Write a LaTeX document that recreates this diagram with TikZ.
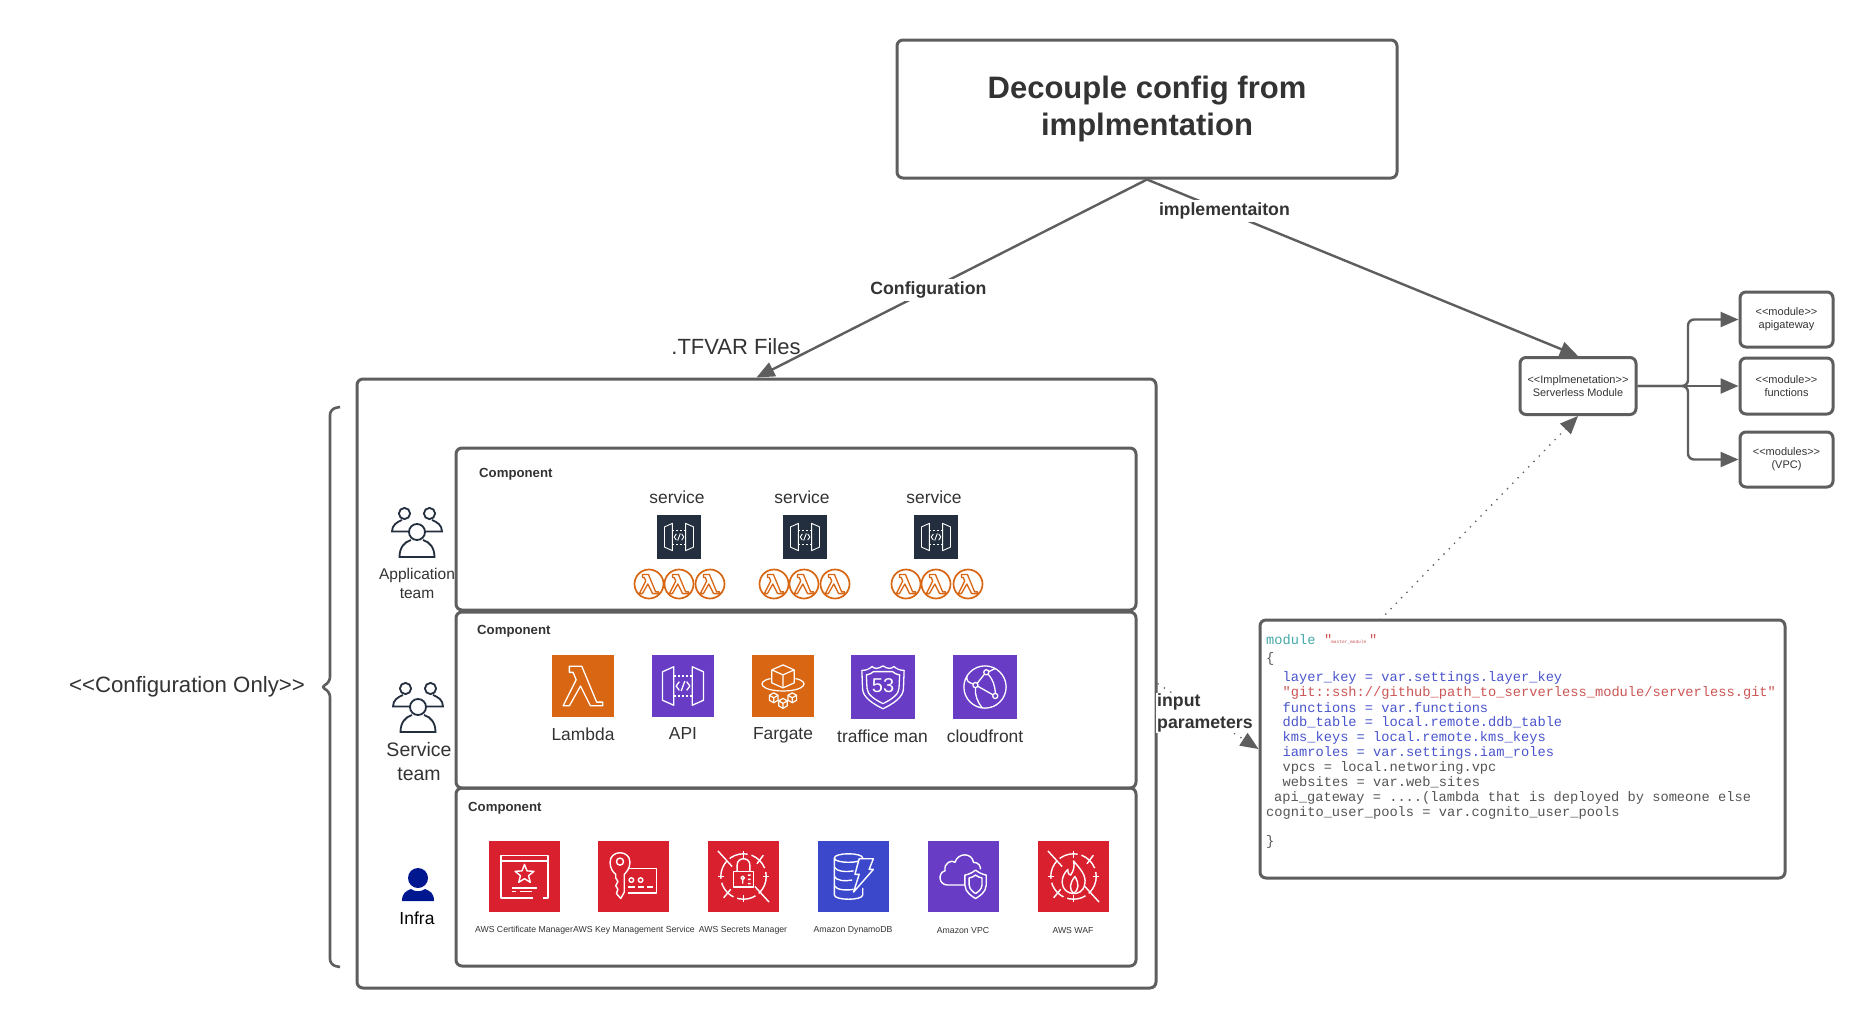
\documentclass[tikz,border=0pt]{standalone}
\usepackage{fontspec}
\setmainfont{Liberation Sans}
\setmonofont{Liberation Mono}
\usetikzlibrary{arrows.meta,calc}
\definecolor{linegray}{HTML}{5E5E5E}
\definecolor{inktext}{HTML}{333333}
\definecolor{awsnavy}{HTML}{232F3E}
\definecolor{awsorange}{HTML}{D86613}
\definecolor{awspurple}{HTML}{693CC5}
\definecolor{awsred}{HTML}{D9202E}
\definecolor{awsblue}{HTML}{3B48CC}
\definecolor{infrablue}{HTML}{00188F}
\definecolor{codeteal}{HTML}{45A8A8}
\definecolor{codeblue}{HTML}{4A55CC}
\definecolor{codered}{HTML}{CC5555}
\definecolor{codeink}{HTML}{555555}
\newcommand{\fsz}[1]{\fontsize{#1}{#1}\selectfont}
\tikzset{
  box/.style={draw=linegray,line width=3pt,rounded corners=6pt,inner sep=0pt,align=center,text=inktext},
  conn/.style={draw=linegray,line width=2.4pt,-{Triangle[length=18pt,width=15pt]}},
  dotconn/.style={draw=linegray,line width=1.3pt,dash pattern=on 1.3pt off 6.3pt,-{Triangle[length=18pt,width=15pt]}},
  lbl/.style={text=inktext,align=center,inner sep=0pt},
  boldlbl/.style={lbl,font=\fsz{17.7}\bfseries,fill=white,inner sep=3pt},
  comp/.style={lbl,anchor=west,font=\fsz{13.2}\bfseries},
  svc/.style={lbl,font=\fsz{17.4}},
  tiny/.style={lbl,font=\fsz{8.7}},
  code/.style={anchor=west,inner sep=0pt,font=\ttfamily\fsz{13.7}},
}
% square service icon: x y w h colour line-width drawing
\newcommand{\awsicon}[7]{%
  \fill[#5] (#1,#2) rectangle ++(#3,#4);
  \pgfmathsetmacro\ux{#3/100}\pgfmathsetmacro\uy{#4/100}
  \begin{scope}[shift={(#1,#2)},x=\ux pt,y=-\uy pt,color=white,line width=#6pt,line join=round]
  #7
  \end{scope}}
\newcommand{\apiglyph}{%
  \draw (17,27) -- (35,19) -- (35,81) -- (17,73) -- cycle;
  \draw (83,27) -- (65,19) -- (65,81) -- (83,73) -- cycle;
  \draw[dash pattern=on 2pt off 2pt] (35,34) -- (65,34) (35,66) -- (65,66);
  \draw (44,43) -- (39,50) -- (44,57) (53,42) -- (47,58) (56,43) -- (61,50) -- (56,57);}
\newcommand{\lambdaglyph}{%
  \draw (28,18) -- (48,18) -- (72,76) -- (82,76) -- (82,82) -- (62,82) -- (46,50) -- (28,82) -- (18,82) -- (39,40) -- (34,28) -- (28,28) -- cycle;}
\newcommand{\minicube}[2]{%
  \draw (#1,#2) ++(-7,-4) -- ++(7,-4) -- ++(7,4) -- ++(0,8) -- ++(-7,4) -- ++(-7,-4) -- cycle;
  \draw (#1,#2) ++(-7,-4) -- ++(7,4) -- ++(7,-4) ++(-7,4) -- ++(0,8);}
\newcommand{\ringslash}{%
  \draw[dash pattern=on 19pt off 4pt] (50,50) circle [radius=32];
  \draw (14,14) -- (34,36) (86,86) -- (66,64) (78,20) -- (69,32) (22,80) -- (32,68);
  \draw (50,14) -- (50,24) (50,76) -- (50,86) (14,50) -- (23,50) (77,50) -- (86,50);}
% three people, outlined
\newcommand{\people}[2]{%
  \begin{scope}[shift={(#1,#2)},draw=awsnavy,line width=1.8pt]
  \draw (-12.5,6.5) circle [radius=5.6];
  \draw (12.5,6.5) circle [radius=5.6];
  \draw (-8,24.5) -- (-25,24.5) .. controls (-25,18) and (-20,15) .. (-15,13);
  \draw (8,24.5) -- (25,24.5) .. controls (25,18) and (20,15) .. (15,13);
  \draw[fill=white] (0,25) circle [radius=8];
  \draw (-6,33) .. controls (-13,35) and (-17.5,41) .. (-17.5,50) -- (17.5,50) .. controls (17.5,41) and (13,35) .. (6,33);
  \end{scope}}
\newcommand{\oranglambda}[2]{%
  \draw[awsorange,line width=1.7pt,fill=white] (#1,#2) circle [radius=14.5];
  \begin{scope}[shift={(#1-15,#2-15)},x=0.3pt,y=-0.3pt,color=awsorange,line width=1.3pt,line join=round]
  \lambdaglyph
  \end{scope}}
\begin{document}
\begin{tikzpicture}[x=1pt,y=-1pt]
\useasboundingbox (0,0) rectangle (1874,1028);
\fill[white] (0,0) rectangle (1874,1028);

% main boxes
\node[box,minimum width=500pt,minimum height=138pt,font=\fsz{31}\bfseries,text=inktext] (title) at (1147,109) {Decouple config from\\[6.5pt]implmentation};
\node[box,minimum width=799pt,minimum height=609pt] (outer) at (756.5,683.5) {};
\node[box,minimum width=680pt,minimum height=162pt] (appbox) at (796,529) {};
\node[box,minimum width=680pt,minimum height=176pt] (svcbox) at (796,700) {};
\node[box,minimum width=680pt,minimum height=178pt] (infrabox) at (796,877) {};
\node[box,minimum width=525pt,minimum height=258pt] (codebox) at (1522.5,749) {};
\node[box,minimum width=116pt,minimum height=57pt,font=\fsz{10.9}] (impl) at (1578,386) {{\fsz{11}<{}<Implmenetation>{}>}\\[2pt]Serverless Module};
\node[box,minimum width=93pt,minimum height=55pt,font=\fsz{11}] (modapi) at (1786.5,319.5) {<{}<module>{}>\\[2pt]apigateway};
\node[box,minimum width=93pt,minimum height=56pt,font=\fsz{11}] (modfn) at (1786.5,386) {<{}<module>{}>\\[2pt]functions};
\node[box,minimum width=93pt,minimum height=55pt,font=\fsz{11}] (modvpc) at (1786.5,459.5) {<{}<modules>{}>\\[2pt](VPC)};

% connectors
\draw[conn] (title.south) -- node[boldlbl,pos=0.565,xshift=2pt,yshift=1.5pt] (cfglbl) {Configuration} (outer.north);
\draw[conn] (title.south) -- node[boldlbl,pos=0.175,xshift=2pt,yshift=-0.5pt] (implbl) {implementaiton} (impl.north);
\draw[conn,rounded corners=6pt] (impl.east) -- (1688,386) -- (1688,319.5) -- (modapi.west);
\draw[conn] (impl.east) -- (modfn.west);
\draw[conn,rounded corners=6pt] (impl.east) -- (1688,386) -- (1688,459.5) -- (modvpc.west);
\coordinate (codeanchor) at (1380,620);
\draw[dotconn] (codeanchor) -- (impl.south);
\draw[dotconn] (outer.east) -- (codebox.west);
\node[lbl,anchor=west,font=\fsz{17.7}\bfseries,align=left,fill=white,inner sep=1pt] (inputlbl) at (1156,713) {input\\[3.5pt]parameters};

% text outside
\node[lbl,font=\fsz{22}] (tfvar) at (736,347) {.TFVAR Files};
\node[lbl,font=\fsz{22.2}] (cfgonly) at (187,686.5) {<{}<Configuration Only>{}>};
\draw[linegray,line width=2.6pt,rounded corners=6pt] (340,407) -- (330,409) -- (330,683) -- (320,687) -- (330,691) -- (330,965) -- (340,967);

% component titles
\node[comp] (c1) at (479,474.5) {Component};
\node[comp] (c2) at (477,631.5) {Component};
\node[comp] (c3) at (468,808) {Component};

% teams
\people{417}{507}
\node[lbl,font=\fsz{15.5}] (appteam) at (417,583.5) {Application\\[3.5pt]team};
\people{418}{682}
\node[lbl,font=\fsz{19.5}] (svcteam) at (419,761.5) {Service\\[4.5pt]team};
\fill[infrablue] (418,878) circle [radius=10];
\fill[infrablue] (402,901) .. controls (402,893) and (406,891) .. (411,889) .. controls (415,892) and (421,892) .. (425,889) .. controls (430,891) and (434,893) .. (434,901) -- cycle;
\node[lbl,font=\fsz{17.5},text=black] (infratxt) at (417,918) {Infra};

% application component
\node[svc] (s1) at (677,497) {service};
\node[svc] (s2) at (802,497) {service};
\node[svc] (s3) at (934,497) {service};
\awsicon{657}{515}{44}{44}{awsnavy}{0.9}{\apiglyph}
\awsicon{783}{515}{44}{44}{awsnavy}{0.9}{\apiglyph}
\awsicon{914}{515}{44}{44}{awsnavy}{0.9}{\apiglyph}
\oranglambda{649}{584}\oranglambda{679}{584}\oranglambda{710}{584}
\oranglambda{774}{584}\oranglambda{804}{584}\oranglambda{835}{584}
\oranglambda{906}{584}\oranglambda{936}{584}\oranglambda{968}{584}

% service component
\awsicon{552}{655}{62}{62}{awsorange}{1.3}{\lambdaglyph}
\awsicon{652}{655}{62}{62}{awspurple}{1.3}{\apiglyph}
\awsicon{752}{655}{62}{62}{awsorange}{1.2}{%
  \draw (50,16) -- (68,24) -- (68,45) -- (50,53) -- (32,45) -- (32,24) -- cycle (32,24) -- (50,32) -- (68,24) (50,32) -- (50,53);
  \draw (30,38) .. controls (5,43) and (15,58) .. (50,58) .. controls (85,58) and (95,43) .. (70,38);
  \minicube{35}{69}\minicube{65}{69}\minicube{50}{78}}
\awsicon{851}{655}{64}{64}{awspurple}{1.3}{%
  \draw (17,24) .. controls (24,24) and (28,22) .. (33,18) .. controls (37,22) and (42,22) .. (50,17) .. controls (57,22) and (63,22) .. (67,18) .. controls (72,22) and (76,24) .. (83,24) -- (82,52) .. controls (82,66) and (66,76) .. (50,84) .. controls (34,76) and (18,66) .. (18,52) -- cycle;
  \draw (24,31) .. controls (30,30) and (33,28) .. (35,26) -- (65,26) .. controls (67,28) and (70,30) .. (76,31) -- (75,52) .. controls (75,62) and (62,70) .. (50,76) .. controls (38,70) and (25,62) .. (25,52) -- cycle;
  \node[text=white,font=\fsz{20},inner sep=0pt] (r53) at (50,48) {53};}
\awsicon{953}{655}{64}{64}{awspurple}{1.3}{%
  \draw (50,50) circle [radius=33];
  \draw (52,27) circle [radius=4] (35,47) circle [radius=4] (66,64) circle [radius=4];
  \draw (49,30) -- (38,44) (39,49) -- (62,62) (55,30) .. controls (62,38) and (66,48) .. (66,60);
  \draw (35,51) .. controls (34,62) and (38,74) .. (46,83) (31,45) .. controls (24,43) and (20,40) .. (22,33) (56,26) .. controls (60,24) and (64,22) .. (66,21);}
\node[svc] (l1) at (583,734) {Lambda};
\node[svc] (l2) at (683,734) {API};
\node[svc] (l3) at (783,735.5) {Fargate};
\node[svc] (l4) at (882.5,736) {traffice man};
\node[svc] (l5) at (985,736) {cloudfront};

% infra component
\awsicon{489}{841}{71}{71}{awsred}{1.4}{%
  \draw (62,80) -- (17,80) -- (17,20) -- (83,20) -- (83,80) -- (76,80);
  \draw (17,28) -- (83,28);
  \draw (50,33) -- (53.5,42.1) -- (63.3,42.7) -- (55.7,48.9) -- (58.2,58.3) -- (50,53) -- (41.8,58.3) -- (44.3,48.9) -- (36.7,42.7) -- (46.5,42.1) -- cycle;
  \draw (32,66) -- (68,66) (32,71) -- (38,71) (44,71) -- (60,71);}
\awsicon{598}{841}{71}{71}{awsred}{1.4}{%
  \draw (17,30) .. controls (17,12) and (45,12) .. (45,30) .. controls (45,38) and (40,44) .. (37,47) -- (37,72) -- (32,81) -- (26,74) -- (28,68) -- (25,63) -- (28,57) -- (25,52) -- (25,47) .. controls (21,44) and (17,38) .. (17,30) -- cycle;
  \draw (31,29) circle [radius=5];
  \draw (42,39) -- (82,39) -- (82,73) -- (42,73);
  \draw (47,55) circle [radius=3.2] (60,55) circle [radius=3.2];
  \draw (42,65) -- (52,65) (56,65) -- (65,65) (69,65) -- (78,65);}
\awsicon{708}{841}{71}{71}{awsred}{1.4}{%
  \ringslash
  \draw (36,43) rectangle (64,65);
  \draw (41,43) -- (41,34) .. controls (41,22) and (59,22) .. (59,34) -- (59,43);
  \draw (49,52) circle [radius=2.5] (49,55) -- (49,60) (56,48) -- (60,48) (56,54) -- (60,54) (56,60) -- (60,60);}
\awsicon{818}{841}{71}{71}{awsblue}{1.4}{%
  \draw (23,24) .. controls (23,16) and (63,16) .. (63,24) .. controls (63,32) and (23,32) .. (23,24);
  \draw (23,24) -- (23,76) .. controls (23,84) and (63,84) .. (63,76) -- (63,66);
  \draw (23,37) .. controls (26,43) and (40,44) .. (50,42);
  \draw (23,50) .. controls (26,56) and (38,57) .. (48,55);
  \draw (23,63) .. controls (26,69) and (40,70) .. (50,68);
  \draw[fill=awsblue] (58,25) -- (78,25) -- (72,40) -- (78,40) -- (50,72) -- (58,47) -- (52,47) -- cycle;}
\awsicon{928}{841}{71}{71}{awspurple}{1.4}{%
  \draw (52,62) -- (28,62) .. controls (14,62) and (14,44) .. (24,42) .. controls (22,30) and (34,26) .. (38,30) .. controls (42,16) and (62,16) .. (64,30) .. controls (72,30) and (74,36) .. (74,40);
  \draw (67,41) .. controls (72,45) and (77,47) .. (82,48) -- (82,62) .. controls (82,72) and (72,78) .. (67,81) .. controls (62,78) and (52,72) .. (52,62) -- (52,48) .. controls (57,47) and (62,45) .. (67,41) -- cycle;
  \draw (67,48) .. controls (70,50) and (73,52) .. (76,52) -- (76,62) .. controls (76,68) and (70,72) .. (67,74) .. controls (64,72) and (58,68) .. (58,62) -- (58,52) .. controls (61,52) and (64,50) .. (67,48) -- cycle;}
\awsicon{1038}{841}{71}{71}{awsred}{1.4}{%
  \ringslash
  \draw (50,28) .. controls (60,40) and (68,48) .. (66,60) .. controls (64,72) and (56,74) .. (50,74) .. controls (42,74) and (34,68) .. (34,58) .. controls (34,50) and (38,44) .. (42,40) .. controls (42,46) and (44,48) .. (46,48) .. controls (50,42) and (52,36) .. (50,28) -- cycle;
  \draw (50,74) .. controls (44,68) and (44,60) .. (52,50) .. controls (58,60) and (58,68) .. (50,74);}
\node[tiny] (t1) at (524,930) {AWS Certificate Manager};
\node[tiny] (t2) at (634,930) {AWS Key Management Service};
\node[tiny] (t3) at (743,930) {AWS Secrets Manager};
\node[tiny] (t4) at (853,930) {Amazon DynamoDB};
\node[tiny] (t5) at (963,930) {Amazon VPC};
\node[tiny] (t6) at (1073,930) {AWS WAF};

% code
\node[code,text=codeteal] (cd0) at (1266,640) {module};
\node[code,text=codered] (cd0a) at (1324,640) {"};
\node[code,text=codered,font=\ttfamily\fsz{4.5}] (cd0b) at (1331,642) {master\_module};
\node[code,text=codered] (cd0c) at (1369,640) {"};
\node[code,text=codeink] (cd1) at (1266,659) {\{};
\node[code,text=codeblue] (cd2) at (1282.5,678) {layer\_key = var.settings.layer\_key};
\node[code,text=codered] (cd3) at (1282.5,692.5) {"git::ssh://github\_path\_to\_serverless\_module/serverless.git"};
\node[code,text=codeblue] (cd4) at (1282.5,707.5) {functions = var.functions};
\node[code,text=codeblue] (cd5) at (1282.5,722.5) {ddb\_table = local.remote.ddb\_table};
\node[code,text=codeblue] (cd6) at (1282.5,737.5) {kms\_keys = local.remote.kms\_keys};
\node[code,text=codeblue] (cd7) at (1282.5,752.5) {iamroles = var.settings.iam\_roles};
\node[code,text=codeink] (cd8) at (1282.5,767.5) {vpcs = local.networing.vpc};
\node[code,text=codeink] (cd9) at (1282.5,782.5) {websites = var.web\_sites};
\node[code,text=codeink] (cd10) at (1274,797.5) {api\_gateway = ....(lambda that is deployed by someone else};
\node[code,text=codeink] (cd11) at (1266,812.5) {cognito\_user\_pools = var.cognito\_user\_pools};
\node[code,text=codeink] (cd12) at (1266,842) {\}};
\end{tikzpicture}
\end{document}
